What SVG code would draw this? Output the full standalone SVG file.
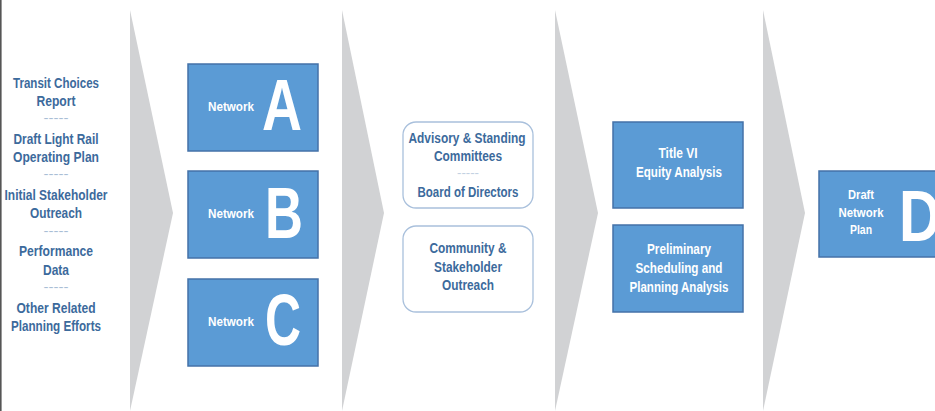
<svg xmlns="http://www.w3.org/2000/svg" width="935" height="411" viewBox="0 0 935 411">
<style>
.chev{fill:#d1d2d4}
.box{fill:#5b9bd5;stroke:#4472a8;stroke-width:1.5}
.rbox{fill:#ffffff;stroke:#a9c0dc;stroke-width:1.3}
text{font-family:"Liberation Sans",Arial,sans-serif}
.lt{fill:#3c6a9c;font-size:15px;font-weight:bold;text-anchor:middle}
.ct{fill:#3c6a9c;font-size:14.5px;font-weight:bold;text-anchor:middle}
.dash{fill:#a9bed6;font-size:12px;text-anchor:middle}
.wt{fill:#ffffff;font-size:14.5px;font-weight:bold;text-anchor:middle}
.nw{fill:#ffffff;font-size:12.5px;font-weight:bold;text-anchor:middle}
.big{fill:#ffffff;font-size:72px;font-weight:bold;text-anchor:middle}
</style>
<rect x="0" y="0" width="935" height="411" fill="#ffffff"/>
<rect x="0" y="0" width="1.6" height="411" fill="#555555"/>
<g id="connectors">
<polygon class="chev" points="130,10 173,213 130,411"/>
<polygon class="chev" points="342,10 384,213 342,411"/>
<polygon class="chev" points="555,10 598,213 555,411"/>
<polygon class="chev" points="763,10 805,213 763,411"/>
</g>
<g id="inputs">
<text class="lt" x="56" y="88" textLength="86" lengthAdjust="spacingAndGlyphs">Transit Choices</text>
<text class="lt" x="56" y="106" textLength="39" lengthAdjust="spacingAndGlyphs">Report</text>
<text class="dash" x="56" y="122" textLength="25" lengthAdjust="spacingAndGlyphs">-----</text>
<text class="lt" x="56" y="144" textLength="85" lengthAdjust="spacingAndGlyphs">Draft Light Rail</text>
<text class="lt" x="56" y="162" textLength="86" lengthAdjust="spacingAndGlyphs">Operating Plan</text>
<text class="dash" x="56" y="178" textLength="25" lengthAdjust="spacingAndGlyphs">-----</text>
<text class="lt" x="56" y="200" textLength="103" lengthAdjust="spacingAndGlyphs">Initial Stakeholder</text>
<text class="lt" x="56" y="218" textLength="52" lengthAdjust="spacingAndGlyphs">Outreach</text>
<text class="dash" x="56" y="235" textLength="25" lengthAdjust="spacingAndGlyphs">-----</text>
<text class="lt" x="56" y="256" textLength="74" lengthAdjust="spacingAndGlyphs">Performance</text>
<text class="lt" x="56" y="275" textLength="26" lengthAdjust="spacingAndGlyphs">Data</text>
<text class="dash" x="56" y="291" textLength="25" lengthAdjust="spacingAndGlyphs">-----</text>
<text class="lt" x="56" y="313" textLength="79" lengthAdjust="spacingAndGlyphs">Other Related</text>
<text class="lt" x="56" y="331" textLength="90" lengthAdjust="spacingAndGlyphs">Planning Efforts</text>
</g>
<g id="networkA">
<rect class="box" x="188" y="64" width="130" height="87"/>
<text class="nw" x="231" y="111" textLength="46" lengthAdjust="spacingAndGlyphs">Network</text>
<text class="big" x="282" y="130" textLength="40" lengthAdjust="spacingAndGlyphs">A</text>
</g>
<g id="networkB">
<rect class="box" x="188" y="171" width="130" height="87"/>
<text class="nw" x="231" y="218" textLength="46" lengthAdjust="spacingAndGlyphs">Network</text>
<text class="big" x="284" y="238" textLength="38" lengthAdjust="spacingAndGlyphs">B</text>
</g>
<g id="networkC">
<rect class="box" x="188" y="279" width="130" height="87"/>
<text class="nw" x="231" y="326" textLength="46" lengthAdjust="spacingAndGlyphs">Network</text>
<text class="big" x="283" y="345" textLength="36" lengthAdjust="spacingAndGlyphs">C</text>
</g>
<g id="committees">
<rect class="rbox" x="403" y="122" width="130" height="86" rx="13"/>
<text class="ct" x="467" y="143" textLength="117" lengthAdjust="spacingAndGlyphs">Advisory &amp;  Standing</text>
<text class="ct" x="468" y="161" textLength="68" lengthAdjust="spacingAndGlyphs">Committees</text>
<text class="dash" x="468" y="177" textLength="22" lengthAdjust="spacingAndGlyphs" style="fill:#c3d1e2">-----</text>
<text class="ct" x="468" y="197" textLength="101" lengthAdjust="spacingAndGlyphs">Board of Directors</text>
</g>
<g id="outreach">
<rect class="rbox" x="403" y="226" width="130" height="86" rx="13"/>
<text class="ct" x="468" y="253" textLength="77" lengthAdjust="spacingAndGlyphs">Community &amp;</text>
<text class="ct" x="468" y="272" textLength="68" lengthAdjust="spacingAndGlyphs">Stakeholder</text>
<text class="ct" x="468" y="290" textLength="52" lengthAdjust="spacingAndGlyphs">Outreach</text>
</g>
<g id="titleVI">
<rect class="box" x="613" y="122" width="130" height="86"/>
<text class="wt" x="678" y="158" textLength="39" lengthAdjust="spacingAndGlyphs">Title VI</text>
<text class="wt" x="679" y="177" textLength="86" lengthAdjust="spacingAndGlyphs">Equity Analysis</text>
</g>
<g id="scheduling">
<rect class="box" x="613" y="225" width="130" height="87"/>
<text class="wt" x="679" y="254" textLength="64" lengthAdjust="spacingAndGlyphs">Preliminary</text>
<text class="wt" x="679" y="273" textLength="87" lengthAdjust="spacingAndGlyphs">Scheduling and</text>
<text class="wt" x="679" y="292" textLength="99" lengthAdjust="spacingAndGlyphs">Planning Analysis</text>
</g>
<g id="draftPlan">
<rect class="box" x="819" y="171" width="130" height="86"/>
<text class="nw" x="861" y="199" textLength="26" lengthAdjust="spacingAndGlyphs">Draft</text>
<text class="nw" x="861" y="217" textLength="45" lengthAdjust="spacingAndGlyphs">Network</text>
<text class="nw" x="861" y="234" textLength="22" lengthAdjust="spacingAndGlyphs">Plan</text>
<text class="big" x="899" y="241" style="text-anchor:start" textLength="42" lengthAdjust="spacingAndGlyphs">D</text>
</g>
</svg>
